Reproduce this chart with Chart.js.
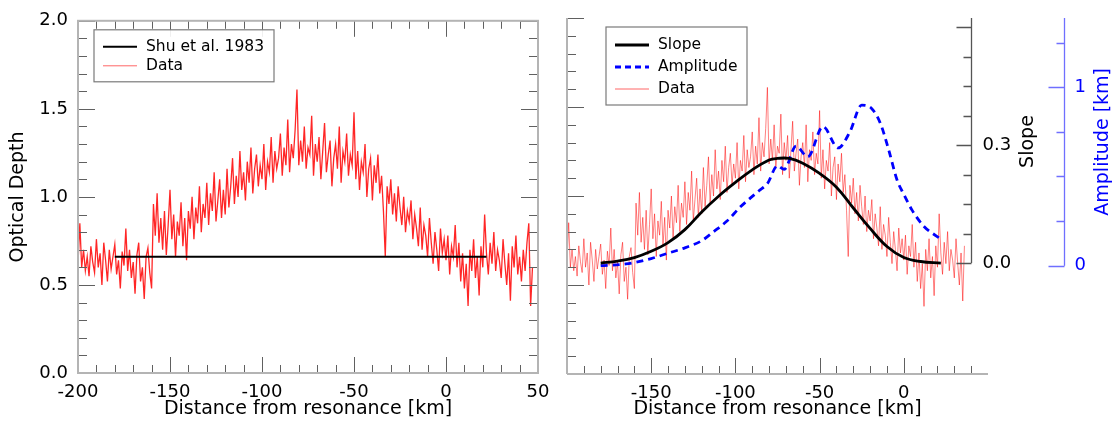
<!DOCTYPE html>
<html>
<head>
<meta charset="utf-8">
<script src="https://cdn.jsdelivr.net/npm/chart.js@4.4.1/dist/chart.umd.min.js"></script>
<style>
  html, body { margin: 0; padding: 0; background: #fff; }
  #wrap { position: relative; width: 1117px; height: 421px; }
  #wrap canvas { position: absolute; left: 0; top: 0; }
</style>
</head>
<body>
<div id="wrap">
  <canvas id="left" width="1117" height="421"></canvas>
  <canvas id="right" width="1117" height="421"></canvas>
</div>
<script>
// ---- data ----
// optical depth scan, one sample per km starting at dataStartKm
var dataStartKm = -200;
var dataStepKm = 1;
var opticalDepth = [
  0.62, 0.85, 0.60, 0.70, 0.58, 0.66, 0.55, 0.72, 0.63, 0.57,
  0.76, 0.60, 0.68, 0.50, 0.74, 0.64, 0.52, 0.70, 0.59, 0.66,
  0.73, 0.56, 0.64, 0.48, 0.69, 0.61, 0.82, 0.58, 0.70, 0.54,
  0.63, 0.45, 0.67, 0.74, 0.52, 0.60, 0.42, 0.66, 0.71, 0.57,
  0.48, 0.96, 0.78, 1.02, 0.74, 0.88, 0.70, 0.92, 0.67, 0.84,
  1.04, 0.76, 0.90, 0.66, 0.86, 0.78, 0.97, 0.72, 0.88, 0.64,
  0.92, 0.82, 1.00, 0.76, 0.94, 0.85, 1.06, 0.80, 0.96, 0.88,
  1.08, 0.84, 1.02, 0.92, 1.14, 0.86, 0.98, 1.10, 0.88, 1.04,
  0.90, 1.16, 0.94, 1.06, 1.22, 0.96, 1.12, 1.00, 1.26, 1.04,
  1.14, 0.98, 1.20, 1.08, 1.28, 1.02, 1.16, 1.24, 1.06, 1.18,
  1.10, 1.30, 1.04, 1.20, 1.14, 1.34, 1.08, 1.26, 1.16, 1.22,
  1.36, 1.12, 1.28, 1.18, 1.44, 1.14, 1.30, 1.22, 1.38, 1.61,
  1.18, 1.32, 1.20, 1.40, 1.16, 1.28, 1.24, 1.46, 1.12, 1.30,
  1.20, 1.34, 1.10, 1.26, 1.42, 1.14, 1.24, 1.32, 1.06, 1.22,
  1.30, 1.16, 1.40, 1.08, 1.26, 1.20, 1.36, 1.12, 1.24, 1.18,
  1.48, 1.10, 1.26, 1.04, 1.20, 1.14, 1.30, 1.00, 1.16, 1.22,
  0.98, 1.18, 1.08, 1.24, 1.02, 1.12, 0.92, 0.66, 1.06, 0.96,
  1.10, 0.90, 1.02, 0.86, 1.06, 0.94, 0.84, 1.00, 0.80, 0.92,
  0.86, 0.98, 0.76, 0.90, 0.82, 0.72, 0.94, 0.70, 0.84, 0.78,
  0.66, 0.88, 0.74, 0.62, 0.80, 0.70, 0.58, 0.82, 0.68, 0.76,
  0.64, 0.78, 0.56, 0.72, 0.66, 0.84, 0.60, 0.74, 0.52, 0.68,
  0.48, 0.62, 0.38, 0.70, 0.58, 0.76, 0.54, 0.66, 0.44, 0.72,
  0.60, 0.90, 0.68, 0.56, 0.74, 0.62, 0.80, 0.58, 0.70, 0.64,
  0.54, 0.76, 0.62, 0.50, 0.68, 0.41, 0.72, 0.60, 0.78, 0.56,
  0.66, 0.52, 0.70, 0.58, 0.74, 0.85, 0.38, 0.60
];
var rightPanelLastKm = 36;

var shuKm = [-180, 22];
var shuTau = [0.66, 0.66];

var slopeKm  = [-180, -170, -160, -150, -140, -130, -120, -110, -100, -90, -80, -75, -68, -60, -50, -40, -30, -20, -10, 0, 10, 22];
var slopeVal = [0.000, 0.005, 0.014, 0.030, 0.052, 0.085, 0.130, 0.170, 0.205, 0.237, 0.262, 0.266, 0.266, 0.254, 0.228, 0.193, 0.140, 0.088, 0.042, 0.014, 0.004, 0.000];

var ampKm  = [-180, -165, -150, -140, -130, -120, -113, -105, -97, -91, -86, -81, -75, -71, -64, -57, -48, -39, -32, -25, -19, -14, -9, -4, 0, 5, 12, 21];
var ampVal = [0.00, 0.01, 0.04, 0.07, 0.10, 0.14, 0.19, 0.25, 0.33, 0.38, 0.42, 0.46, 0.56, 0.54, 0.67, 0.61, 0.78, 0.66, 0.75, 0.90, 0.88, 0.80, 0.65, 0.48, 0.40, 0.31, 0.22, 0.155];

// axis ticks
var kmTicksLeft = [-200, -150, -100, -50, 0, 50];
var kmTicksRight = [-150, -100, -50, 0];
var tauTicks = [0, 0.5, 1.0, 1.5, 2.0];
var slopeTicks = [0, 0.3];
var ampTicks = [0, 1];

// ---- styling ----
var FONT = 'DejaVu Sans';
var axisGray = '#b4b4b4';
var tickGray = '#606060';
var ampBlue = '#0000ff';

Chart.defaults.font.family = FONT;
Chart.defaults.color = '#000';

function pts(xs, ys) {
  return xs.map(function (x, i) { return {x: x, y: ys[i]}; });
}
var tauPoints = opticalDepth.map(function (v, i) { return {x: dataStartKm + i * dataStepKm, y: v}; });
var tauPointsRight = tauPoints.filter(function (p) { return p.x <= rightPanelLastKm; });

function setTicks(list) {
  return function (s) { s.ticks = list.map(function (v) { return {value: v}; }); };
}

function line(ctx, x1, y1, x2, y2) {
  ctx.moveTo(x1, y1); ctx.lineTo(x2, y2);
}

function rotatedText(ctx, text, x, y, color, size) {
  ctx.save();
  ctx.translate(x, y);
  ctx.rotate(-Math.PI / 2);
  ctx.fillStyle = color;
  ctx.font = size + 'px "' + FONT + '"';
  ctx.textAlign = 'center';
  ctx.textBaseline = 'middle';
  ctx.fillText(text, 0, 0);
  ctx.restore();
}

function drawLegend(ctx, box, rows) {
  ctx.save();
  ctx.fillStyle = 'rgba(255,255,255,0.9)';
  ctx.fillRect(box.x, box.y, box.w, box.h);
  ctx.strokeStyle = '#7a7a7a';
  ctx.lineWidth = 1.2;
  ctx.strokeRect(box.x, box.y, box.w, box.h);
  ctx.font = '15.5px "' + FONT + '"';
  ctx.textBaseline = 'middle';
  ctx.textAlign = 'left';
  rows.forEach(function (r, i) {
    var yy = box.y + box.first + i * box.step;
    ctx.beginPath();
    ctx.strokeStyle = r.color;
    ctx.lineWidth = r.width;
    ctx.setLineDash(r.dash || []);
    line(ctx, box.x + 9, yy, box.x + 43, yy);
    ctx.stroke();
    ctx.setLineDash([]);
    ctx.fillStyle = '#000';
    ctx.fillText(r.label, box.x + 52, yy);
  });
  ctx.restore();
}

var leftFrame = {
  id: 'leftFrame',
  afterDraw: function (chart) {
    var ctx = chart.ctx, a = chart.chartArea, x = chart.scales.x, y = chart.scales.y;
    ctx.save();
    ctx.strokeStyle = tickGray;
    ctx.lineWidth = 1;
    ctx.beginPath();
    for (var i = 0; i <= 20; i++) {
      var py = Math.round(y.getPixelForValue(i / 10)) + 0.5;
      var len = i % 5 === 0 ? 17 : 9;
      line(ctx, a.left, py, a.left + len, py);
      line(ctx, a.right, py, a.right - len, py);
    }
    for (var k = -200; k <= 50; k += 10) {
      var px = Math.round(x.getPixelForValue(k)) + 0.5;
      var l2 = k % 50 === 0 ? 16 : 8;
      line(ctx, px, a.bottom, px, a.bottom - l2);
      line(ctx, px, a.top, px, a.top + l2);
    }
    ctx.stroke();
    ctx.strokeStyle = axisGray;
    ctx.lineWidth = 2;
    ctx.strokeRect(a.left, a.top, a.right - a.left, a.bottom - a.top);
    ctx.restore();
    var ds = chart.data.datasets;
    drawLegend(ctx, {x: a.left + 16, y: a.top + 9, w: 180, h: 52, first: 17, step: 19}, [
      {label: ds[0].label, color: '#000', width: 2},
      {label: ds[1].label, color: 'rgba(255,0,0,0.6)', width: 1}
    ]);
  }
};

var rightFrame = {
  id: 'rightFrame',
  afterDraw: function (chart) {
    var ctx = chart.ctx, a = chart.chartArea, s = chart.scales;
    ctx.save();
    // optical depth axis (left) and distance axis (bottom), inward ticks
    ctx.strokeStyle = tickGray;
    ctx.lineWidth = 1;
    ctx.beginPath();
    for (var i = 0; i <= 20; i++) {
      var py = Math.round(s.y.getPixelForValue(i / 10)) + 0.5;
      line(ctx, a.left, py, a.left + (i % 5 === 0 ? 17 : 9), py);
    }
    for (var k = -200; k <= 40; k += 10) {
      var px = Math.round(s.x.getPixelForValue(k)) + 0.5;
      line(ctx, px, a.bottom, px, a.bottom - (k % 50 === 0 ? 16 : 8));
    }
    ctx.stroke();
    ctx.strokeStyle = axisGray;
    ctx.lineWidth = 2;
    ctx.beginPath();
    line(ctx, a.left, a.top, a.left, a.bottom);
    line(ctx, a.left, a.bottom, a.right, a.bottom);
    ctx.stroke();

    // slope axis, standing at 40 km
    var sx = Math.round(s.x.getPixelForValue(40)) + 0.5;
    var s0 = s.slope.getPixelForValue(0);
    ctx.strokeStyle = '#555';
    ctx.lineWidth = 1.3;
    ctx.beginPath();
    line(ctx, sx, s0, sx, a.top);
    for (var j = 0; j <= 8; j++) {
      var sy = Math.round(s.slope.getPixelForValue(j * 0.075)) + 0.5;
      line(ctx, sx, sy, sx - (j % 4 === 0 ? 15 : 8), sy);
    }
    ctx.stroke();
    ctx.font = '18px "' + FONT + '"';
    ctx.fillStyle = '#000';
    ctx.textAlign = 'left';
    ctx.textBaseline = 'middle';
    slopeTicks.forEach(function (v) {
      ctx.fillText(v.toFixed(1), sx + 11, s.slope.getPixelForValue(v));
    });
    rotatedText(ctx, 'Slope', sx + 57, (s0 + a.top) / 2 + 1, '#000', 19);

    // amplitude axis
    var ax = Math.round(a.right + 76) + 0.5;
    var a0 = s.amp.getPixelForValue(0);
    ctx.strokeStyle = '#6f6fff';
    ctx.lineWidth = 1.3;
    ctx.beginPath();
    line(ctx, ax, a0, ax, a.top);
    for (var m = 0; m <= 5; m++) {
      var ay = Math.round(s.amp.getPixelForValue(m * 0.25)) + 0.5;
      line(ctx, ax, ay, ax - (m % 4 === 0 ? 16 : 8), ay);
    }
    ctx.stroke();
    ctx.fillStyle = ampBlue;
    ampTicks.forEach(function (v) {
      ctx.fillText(String(v), ax + 10, s.amp.getPixelForValue(v));
    });
    rotatedText(ctx, 'Amplitude [km]', ax + 39, (a0 + a.top) / 2, ampBlue, 19);
    ctx.restore();

    var ds = chart.data.datasets;
    drawLegend(ctx, {x: a.left + 39, y: a.top + 9, w: 141, h: 78, first: 18, step: 22}, [
      {label: ds[0].label, color: '#000', width: 2.8},
      {label: ds[1].label, color: ampBlue, width: 2.8, dash: [6, 4]},
      {label: ds[2].label, color: 'rgba(255,0,0,0.6)', width: 1}
    ]);
  }
};

var tickFont = {size: 18};
var titleFont = {size: 19};

new Chart(document.getElementById('left'), {
  type: 'line',
  data: {
    datasets: [
      {label: 'Shu et al. 1983', data: pts(shuKm, shuTau), borderColor: '#000', borderWidth: 2, pointRadius: 0},
      {label: 'Data', data: tauPoints, borderColor: 'rgba(255,0,0,0.85)', borderWidth: 1.3, pointRadius: 0}
    ]
  },
  options: {
    responsive: false,
    animation: false,
    devicePixelRatio: 1,
    events: [],
    layout: {padding: {left: 0, top: 18, right: 579, bottom: 0}},
    plugins: {legend: {display: false}, tooltip: {enabled: false}},
    scales: {
      x: {
        type: 'linear', min: -200, max: 50,
        afterBuildTicks: setTicks(kmTicksLeft),
        afterFit: function (s) { s.height = 48; },
        grid: {display: false, drawTicks: false},
        border: {display: false},
        ticks: {font: tickFont, padding: 9, maxRotation: 0, autoSkip: false, color: '#000'},
        title: {display: true, text: 'Distance from resonance [km]', font: titleFont, padding: {top: 0, bottom: 1}, color: '#000'}
      },
      y: {
        type: 'linear', min: 0, max: 2,
        afterBuildTicks: setTicks(tauTicks),
        afterFit: function (s) { s.width = 78; },
        grid: {display: false, drawTicks: false},
        border: {display: false},
        ticks: {font: tickFont, padding: 10, color: '#000', callback: function (v) { return v.toFixed(1); }},
        title: {display: true, text: 'Optical Depth', font: titleFont, padding: {top: 7, bottom: 0}, color: '#000'}
      }
    }
  },
  plugins: [leftFrame]
});

new Chart(document.getElementById('right'), {
  type: 'line',
  data: {
    datasets: [
      {label: 'Slope', data: pts(slopeKm, slopeVal), yAxisID: 'slope', borderColor: '#000', borderWidth: 2.8, pointRadius: 0, tension: 0.4},
      {label: 'Amplitude', data: pts(ampKm, ampVal), yAxisID: 'amp', borderColor: ampBlue, borderWidth: 2.8, borderDash: [7, 5], pointRadius: 0, cubicInterpolationMode: 'monotone'},
      {label: 'Data', data: tauPointsRight, yAxisID: 'y', borderColor: 'rgba(255,0,0,0.5)', borderWidth: 1, pointRadius: 0}
    ]
  },
  options: {
    responsive: false,
    animation: false,
    devicePixelRatio: 1,
    events: [],
    layout: {padding: {left: 567, top: 18, right: 129, bottom: 0}},
    plugins: {legend: {display: false}, tooltip: {enabled: false}},
    scales: {
      x: {
        type: 'linear', min: -200, max: 50,
        afterBuildTicks: setTicks(kmTicksRight),
        afterFit: function (s) { s.height = 47; },
        grid: {display: false, drawTicks: false},
        border: {display: false},
        ticks: {font: tickFont, padding: 9, maxRotation: 0, autoSkip: false, color: '#000'},
        title: {display: true, text: 'Distance from resonance [km]', font: titleFont, padding: {top: 0, bottom: 1}, color: '#000'}
      },
      y: {type: 'linear', min: 0, max: 2, display: false},
      slope: {type: 'linear', min: -0.282, max: 0.623, display: false},
      amp: {type: 'linear', min: -0.607, max: 1.388, display: false}
    }
  },
  plugins: [rightFrame]
});
</script>
</body>
</html>
